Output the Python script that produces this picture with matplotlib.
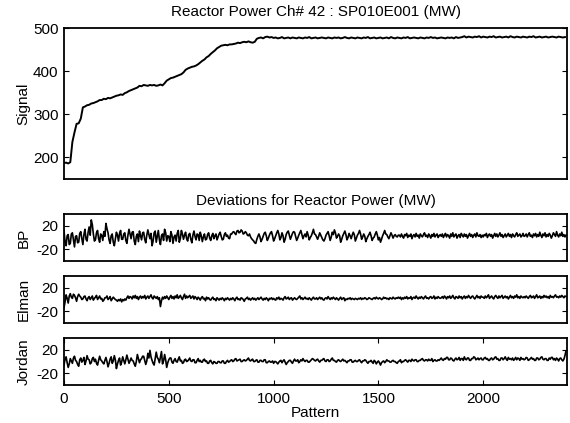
import numpy as np
import matplotlib
matplotlib.use('Agg')
import matplotlib.pyplot as plt

plt.rcParams['font.family'] = ['Liberation Sans', 'DejaVu Sans']
plt.rcParams['font.size'] = 11
plt.rcParams['axes.unicode_minus'] = False

# reactor power signal, one value every 10 patterns (MW)
signal = [187, 188, 186, 189, 236, 258, 278, 279, 290, 316,
          318, 321, 322, 325, 326, 328, 330, 333, 333, 336,
          335, 338, 337, 339, 341, 343, 344, 346, 345, 349,
          351, 354, 356, 358, 360, 362, 366, 365, 368, 367,
          366, 368, 367, 368, 366, 367, 369, 367, 372, 378,
          381, 384, 385, 387, 389, 391, 393, 397, 403, 406,
          408, 410, 411, 413, 416, 420, 424, 427, 432, 435,
          440, 444, 448, 453, 456, 459, 460, 461, 460, 462,
          462, 463, 464, 466, 465, 467, 468, 467, 469, 467,
          466, 468, 475, 477, 478, 476, 479, 480, 478, 479,
          477, 478, 476, 477, 479, 476, 477, 478, 476, 478,
          477, 476, 478, 477, 476, 478, 477, 479, 476, 477,
          478, 476, 477, 478, 477, 476, 478, 477, 476, 478,
          477, 478, 476, 477, 479, 477, 476, 478, 477, 476,
          478, 477, 476, 478, 477, 479, 476, 477, 478, 476,
          477, 478, 476, 477, 478, 476, 479, 477, 476, 478,
          477, 476, 478, 477, 479, 476, 477, 478, 477, 476,
          478, 477, 476, 478, 477, 479, 477, 478, 476, 477,
          478, 477, 476, 478, 477, 478, 476, 479, 477, 478,
          479, 481, 478, 480, 479, 478, 480, 479, 481, 478,
          480, 479, 478, 480, 479, 481, 478, 479, 480, 478,
          479, 480, 478, 481, 479, 478, 480, 479, 478, 480,
          479, 478, 480, 479, 481, 478, 479, 480, 478, 479,
          480, 478, 479, 480, 479, 478, 480, 479, 478, 479]

# deviations, one value every 5 patterns
dev_bp = [12, -8, -14, 3, 5, -12, -10, 6, 8, -4, -16, 2, 3, -9, -8, 7, 10, -2, -12, 5,
          14, -3, -6, 9, 18, 4, 30, 22, 6, -6, -4, 8, 12, -2, -8, 6, 4, -5, 10, 2,
          24, 15, 8, -4, -10, 3, 6, -8, -14, -2, 9, 4, -6, 7, 12, -3, -3, 6, 8, -5,
          -10, 4, 14, 6, -2, 9, 10, -6, -12, 2, 6, -7, 11, 3, -4, 8, 9, -3, -9, 4,
          13, 5, -2, 7, -14, -6, 8, 11, -8, 2, 12, -4, -12, 3, 6, -5, 14, 8, -6, 3,
          2, -7, 10, 4, -10, 1, 4, -6, 7, 12, -8, -2, 12, 6, -3, 4, 9, -2, -6, 5,
          7, -3, -9, 4, 11, 2, -4, 6, 5, -5, 9, 3, -7, 1, 6, -4, -3, 5, 8, -1,
          -5, 3, 7, -2, 3, 6, -4, 1, 6, 9, 2, -4, -3, 5, 8, 2, 4, -1, -2, 6,
          6, 9, 10, 7, 5, 11, 12, 8, 9, 13, 11, 6, 7, 10, 8, 4, 3, 6, 1, -2,
          -4, -6, -9, -10, -3, 2, 6, 1, -7, -3, 2, 7, 9, 3, -5, -1, 4, 8, 10, 3,
          -6, -2, 3, 8, 12, 6, -4, 0, 8, 3, -8, -3, 5, 9, 11, 4, -3, 2, 7, 10,
          9, 2, -5, -1, 4, 8, 12, 5, -2, 3, 6, 1, 10, 4, -4, 0, 3, 8, 14, 6,
          5, 1, -3, 2, 8, 4, 0, -4, -6, -2, 4, 7, 10, 3, -5, 1, 9, 5, 13, 8,
          -1, 2, 6, 3, -8, -3, 3, 7, 11, 5, -4, 0, 7, 3, -2, 4, 9, 5, -6, -1,
          4, 7, 12, 6, -3, 1, 6, 2, -7, -2, 2, 5, 9, 3, -5, -1, 1, 6, 10, 4,
          -4, 0, -8, -3, 3, 7, 12, 6, 5, 1, -2, 3, 8, 4, -1, 3, 5, 2, 1, 4,
          4, 1, 6, 2, -1, 5, 3, 7, 0, 4, 2, 6, -2, 3, 5, 1, 7, 2, 4, -1,
          6, 3, 1, 5, 8, 2, 4, 0, 6, 3, -1, 5, 2, 7, 1, 4, 6, 0, 3, 5,
          2, 6, 0, 4, 7, 1, 5, 3, -1, 6, 2, 8, 1, 4, 6, -1, 3, 5, 0, 7,
          4, 1, 6, 2, 5, -1, 3, 7, 2, 5, 0, 4, 6, 1, 8, 3, 2, 5, 0, 4,
          1, 5, 3, 7, 0, 4, 6, 2, 5, -1, 3, 7, 2, 6, 1, 4, 8, 2, 5, 0,
          3, 6, 1, 4, 7, 2, 5, 0, 6, 3, 1, 5, 8, 2, 4, 6, 1, 3, 7, 2,
          3, 6, 1, 5, 8, 2, 4, 0, 6, 3, 7, 1, 5, 2, 9, 4, 0, 6, 3, 8,
          1, 5, 2, 7, 4, -1, 3, 8, 5, 2, 10, 4, 1, 6, 3, 9, 2, 5, 1, 4]

dev_elman = [-14, -4, 8, 2, -6, 6, 10, 4, 2, 9, 7, 3, -3, 5, 9, 6, 4, 0, 1, 5,
             6, 1, -2, 3, 5, 0, 3, 6, -1, 2, 4, 7, 0, 3, 6, 1, 2, -3, -1, 3,
             3, 6, 0, 2, 5, -2, 1, 4, 2, 0, -1, -3, 0, -2, 1, -4, 0, -2, 1, -1,
             3, 6, 2, 5, 4, 1, 6, 3, 7, 2, 5, 0, 4, 6, 2, 5, 3, 7, 1, 4,
             6, 2, 5, 8, 3, 1, 6, 4, 2, 5, 0, 3, -12, -2, 4, 1, 5, 2, 6, 3,
             0, 4, 7, 2, 5, 1, 6, 3, 8, 2, 4, 7, 3, 0, 5, 9, 2, 6, 3, 5,
             7, 2, 4, 6, 1, 5, 3, 0, 4, 2, -1, 3, 5, 1, 2, -2, 4, 1, 3, 0,
             -1, 2, 4, 0, 1, -2, 3, 1, -1, 2, 0, 3, 1, -2, 2, 0, 3, 1, -1, 2,
             0, 3, 1, -2, 2, 4, 0, 1, -1, 3, 2, 0, -3, 1, 2, 4, 0, 2, -1, 1,
             3, 0, 2, -1, 1, 3, 0, 2, 4, 1, -1, 2, 0, 3, 1, -2, 2, 1, 3, 0,
             2, 0, -1, 3, 1, 4, 0, 2, 1, -1, 3, 5, 1, 2, 4, 0, 2, 3, -1, 1,
             3, 1, 0, 2, 4, 6, 1, 3, 0, 2, 4, 1, 2, 0, 3, 1, -1, 2, 4, 1,
             1, 3, 0, 2, 4, 1, 3, 0, -1, 2, 3, 1, 5, 2, 0, 3, 1, 4, 2, 0,
             3, 1, -1, 2, 4, 0, 2, 3, -2, 1, 0, 2, 1, 3, 0, 2, 1, 0, 2, 1,
             0, 2, 1, 3, 0, 2, 1, 3, 2, 0, 1, 3, 2, 1, 0, 2, 3, 1, 4, 2,
             1, 3, 2, 0, 1, 4, 2, 3, 1, 2, 0, 3, 2, 1, 4, 2, 1, 3, 2, 4,
             2, 4, 0, 3, 1, 4, 2, 5, 1, 3, 2, 5, 0, 3, 4, 2, 6, 3, 1, 4,
             2, 5, 3, 1, 4, 6, 2, 3, 1, 4, 5, 2, 3, 6, 1, 4, 2, 5, 3, 2,
             3, 5, 2, 6, 4, 1, 5, 3, 6, 2, 4, 7, 3, 1, 5, 4, 2, 6, 3, 5,
             1, 4, 6, 2, 5, 3, 7, 4, 2, 5, 6, 3, 1, 4, 7, 3, 5, 2, 6, 4,
             4, 2, 6, 3, 5, 8, 2, 4, 6, 3, 1, 5, 7, 4, 2, 6, 3, 5, 7, 2,
             4, 6, 3, 5, 1, 4, 7, 3, 5, 2, 6, 4, 8, 3, 5, 2, 6, 4, 3, 5,
             3, 6, 4, 2, 5, 7, 3, 4, 6, 2, 5, 8, 3, 4, 6, 2, 5, 3, 7, 4,
             6, 3, 5, 2, 7, 4, 5, 3, 6, 8, 4, 5, 3, 6, 4, 7, 5, 3, 6, 5]

dev_jordan = [-6, 4, 8, -2, -10, -4, 5, 1, -3, 6, 9, 2, 0, -5, -8, 3, 6, -1, 2, 7,
              -5, 1, 10, 4, 3, -4, -2, 5, 7, 0, 4, -3, -6, 2, 9, 3, 1, -2, -4, 2,
              7, 0, -9, -3, 4, 8, -3, 1, 10, 3, -12, -4, 2, 6, -6, -1, 8, 2, -4, 3,
              11, 4, -3, 1, 6, 2, 1, -4, -8, 0, 12, 5, -2, 3, 5, 9, 9, 2, -5, 1,
              14, 6, 19, 8, 2, -3, -6, 5, 16, 7, 4, -2, 8, 17, -4, 1, 12, 3, -10, -2,
              3, 6, 6, -1, -3, 2, 5, 0, -1, 4, 8, 1, 2, -3, -2, 3, 4, 0, 1, 3,
              6, 1, 0, 3, 3, -2, -2, 2, 5, 0, 2, -1, -1, 3, 4, 0, 1, -3, -3, 1,
              2, -2, -4, 0, -1, -3, -3, 0, 0, -2, -2, 1, 1, -3, -3, 0, 2, -1, 0, 2,
              3, 0, 1, 4, 5, 1, 2, 3, 4, 0, 0, 2, 3, 1, 2, 4, 6, 2, 1, 3,
              4, 0, 0, 2, 3, -1, -1, 2, 2, 0, 0, 3, 3, -2, -2, 0, 1, -1, -1, 1,
              -3, 0, 0, -2, -4, -1, 1, 2, -2, 1, 3, -1, -5, -2, 0, 2, 2, -1, -3, 1,
              4, 1, 1, 3, -2, 0, 3, 1, 5, 2, 0, 2, 2, -1, -1, 1, 3, 5, 4, 2,
              1, 3, 4, 1, -1, 2, 2, 4, 5, 1, 0, 3, 3, 0, 1, 4, 6, 2, 2, 0,
              -1, 2, 3, 1, 0, 2, 4, 1, 2, 0, -2, 1, 1, 3, 3, -1, -1, 1, 2, 0,
              0, 2, 3, 0, -2, 1, 1, 3, 2, -1, -3, 0, 0, 2, -1, -3, 2, 0, -4, -1,
              1, -2, -6, -2, 0, 1, -2, 0, 3, 1, 1, -1, -1, 1, 2, 0, 0, -2, -3, 0,
              1, 3, -2, 0, 0, 2, 3, 1, -1, 2, 2, 0, 4, 2, 1, 3, 3, 0, 0, 2,
              2, 4, 5, 2, 1, 3, 3, 1, 4, 2, 2, 5, 0, 2, 3, 1, 1, 3, 2, 4,
              6, 3, 2, 5, 4, 7, 7, 3, 3, 6, 5, 2, 1, 4, 6, 3, 4, 7, 2, 5,
              5, 2, 8, 4, 3, 6, 6, 2, 2, 5, 5, 8, 7, 3, 4, 6, 3, 5, 6, 3,
              3, 6, 7, 4, 5, 2, 2, 5, 6, 3, 4, 7, 8, 4, 5, 2, 2, 6, 6, 3,
              5, 8, 4, 2, 7, 4, 5, 3, 6, 2, 4, 7, 3, 6, 5, 2, 7, 4, 5, 3,
              4, 7, 6, 2, 3, 5, 7, 4, 5, 2, 2, 6, 6, 3, 4, 7, 8, 4, 3, 5,
              5, 2, 2, 6, 4, 7, 7, 3, 5, 2, 6, 4, 1, 5, 6, 3, 1, 4, 10, 18]

pattern_sig = np.arange(len(signal)) * 10
pattern_dev = np.arange(len(dev_bp)) * 5

fig = plt.figure(figsize=(5.7, 4.23), dpi=100)

left, width = 0.1123, 0.8825
ax0 = fig.add_axes([left, 0.5768, width, 0.357])
ax1 = fig.add_axes([left, 0.383, width, 0.111])
ax2 = fig.add_axes([left, 0.2364, width, 0.111])
ax3 = fig.add_axes([left, 0.0898, width, 0.111])

ax0.plot(pattern_sig, signal, color='k', lw=1.4)
ax0.set_ylim(150, 500)
ax0.set_yticks([200, 300, 400, 500])
ax0.set_ylabel('Signal')

for ax, dev, name in [(ax1, dev_bp, 'BP'), (ax2, dev_elman, 'Elman'), (ax3, dev_jordan, 'Jordan')]:
    ax.plot(pattern_dev, dev, color='k', lw=1.2)
    ax.set_ylim(-40, 40)
    ax.set_yticks([-20, 20])
    ax.set_ylabel(name)

for ax in [ax0, ax1, ax2, ax3]:
    ax.set_xlim(0, 2400)
    ax.tick_params(direction='in', length=3.5, width=0.8, pad=4, right=True, top=True)
    ax.yaxis.set_label_coords(-0.066, 0.5)
    for s in ax.spines.values():
        s.set_linewidth(1.3)

for ax in [ax0, ax1, ax2]:
    ax.set_xticks([])

ax3.set_xticks([0, 500, 1000, 1500, 2000])
ax3.tick_params(axis='x', pad=5)
ax3.set_xlabel('Pattern', labelpad=0)

fig.text(left + width / 2, 1 - 12 / 423, 'Reactor Power Ch# 42 : SP010E001 (MW)',
         ha='center', va='center')
fig.text(left + width / 2, 1 - 201 / 423, 'Deviations for Reactor Power (MW)',
         ha='center', va='center')

fig.savefig('out.png', dpi=100)
